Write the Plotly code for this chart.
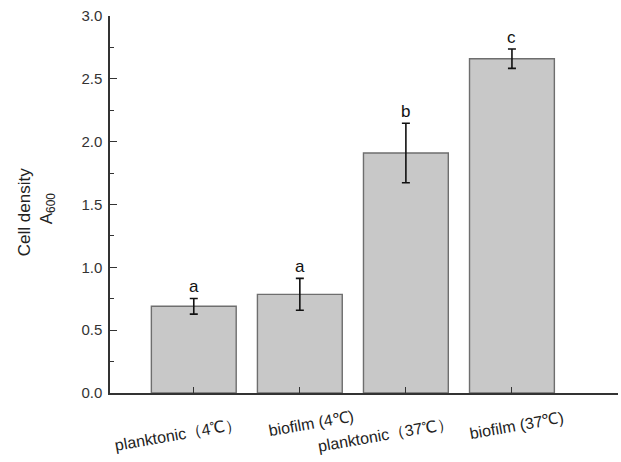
import plotly.graph_objects as go

categories = ["planktonic（4℃）", "biofilm (4℃)", "planktonic（37℃）", "biofilm (37℃)"]
means = [0.69, 0.785, 1.91, 2.66]
errors = [0.062, 0.127, 0.237, 0.077]
letters = ["a", "a", "b", "c"]
y_ticks = [0.0, 0.5, 1.0, 1.5, 2.0, 2.5, 3.0]

xs = list(range(len(categories)))
FONT = "Liberation Sans, Arial"

fig = go.Figure()
fig.add_trace(go.Bar(
    x=xs, y=means, width=0.8,
    marker=dict(color="#c8c8c8", line=dict(color="#6e6e6e", width=1.4)),
    error_y=dict(type="data", array=errors, visible=True, color="#111111",
                 thickness=1.6, width=4),
    showlegend=False,
))

# significance letters
for i, (m, e, l) in enumerate(zip(means, errors, letters)):
    fig.add_annotation(x=i, y=m + e, text=l, showarrow=False, yanchor="middle",
                       yshift=12, font=dict(family=FONT, size=17, color="#111"))

# slanted category labels
label_pos = [(-16, -0.111), (11, -0.080), (-20, -0.111), (5, -0.085)]
for i, c in enumerate(categories):
    dx, yp = label_pos[i]
    fig.add_annotation(x=i, xref="x", y=yp, yref="paper", text=c, showarrow=False,
                       textangle=-10, xanchor="center", yanchor="middle", xshift=dx,
                       font=dict(family=FONT, size=16, color="#222"))

# y axis title (two lines)
fig.add_annotation(x=-0.169, xref="paper", y=0.48, yref="paper", text="Cell density",
                   showarrow=False, textangle=-90, xanchor="center", yanchor="middle",
                   font=dict(family=FONT, size=17, color="#222"))
fig.add_annotation(x=-0.122, xref="paper", y=0.49, yref="paper", text="A<sub>600</sub>",
                   showarrow=False, textangle=-90, xanchor="center", yanchor="middle",
                   font=dict(family=FONT, size=17, color="#222"))

fig.update_layout(
    width=621, height=462,
    margin=dict(l=110, r=3, t=16, b=69),
    plot_bgcolor="white", paper_bgcolor="white",
    font=dict(family=FONT, size=15, color="#222"),
    xaxis=dict(range=[-0.79, 4.0], tickmode="array", tickvals=list(range(len(categories) + 1)),
               showticklabels=False, ticks="inside", ticklen=6, tickwidth=1.3, tickcolor="#333",
               showline=True, linecolor="#333", linewidth=1.5, showgrid=False, zeroline=False),
    yaxis=dict(range=[0, 3.0], tickmode="array", tickvals=y_ticks,
               ticktext=[f"{v:.1f}" for v in y_ticks],
               ticks="inside", ticklen=7, tickwidth=1.3, tickcolor="#333",
               minor=dict(ticks="inside", ticklen=4, tickwidth=1.3, tickcolor="#333", dtick=0.25,
                          tick0=0, showgrid=False),
               showline=True, linecolor="#333", linewidth=1.5, showgrid=False, zeroline=False,
               ticklabelstandoff=3,
               tickfont=dict(family=FONT, size=15, color="#333")),
)

fig.write_html("out.html")
